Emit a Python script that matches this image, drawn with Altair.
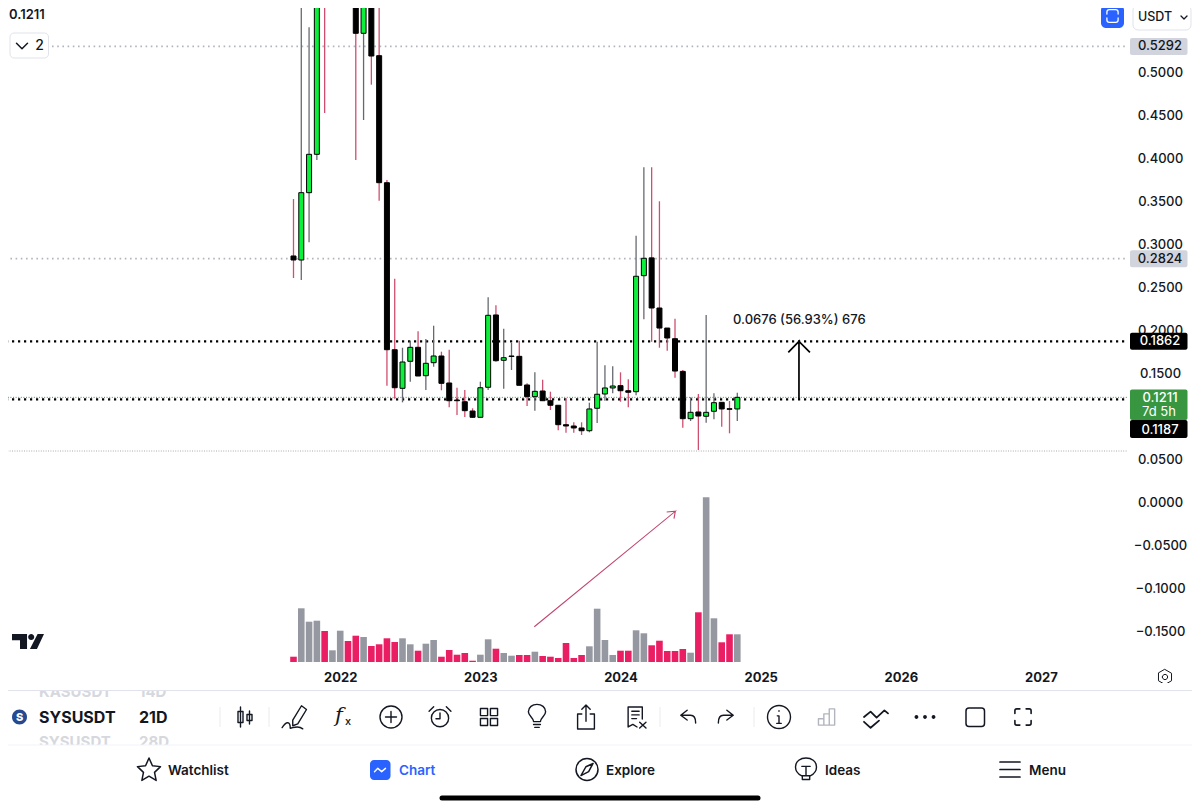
import altair as alt
import pandas as pd

# ---- Candles (21D SYSUSDT); the first candles run off the top of the visible price range
open_ = [.2855,.2808,.3591,.4037,.80,.75,.85,.95,.74,.5444,.62,.5184,.3707,.1765,.1316,.1630,.1793,.1463,.1614,.1692,
         .1378,.1180,.1160,.1052,.0979,.1328,.2169,.1642,.1686,.1688,.1355,.1219,.1285,.1172,.1119,.0893,.0878,.0855,.0823,.1084,
         .1250,.1320,.1347,.1288,.1277,.2626,.2833,.2250,.2017,.1893,.1513,.0963,.1041,.0991,.1049,.1153,.1079,.1076]
high = [.3517,.72,.5514,.85,.90,.95,1.05,1.0,.80,.66,.66,.5793,.3738,.2591,.1788,.1870,.1979,.1890,.2044,.1742,
        .1765,.1323,.1297,.1084,.1393,.2374,.2281,.2009,.1843,.1870,.1374,.1502,.1416,.1277,.1119,.1200,.0921,.0921,.1149,.1858,
        .1584,.1572,.1502,.1421,.3091,.3886,.3886,.3491,.2017,.2126,.1529,.1212,.1250,.2169,.1258,.1153,.1169,.1265]
low = [.2599,.2576,.3014,.3971,.4517,.65,.68,.60,.3971,.4436,.4847,.3498,.1347,.1195,.1153,.1393,.1459,.1297,.1567,.1293,
       .1095,.1006,.0983,.0972,.0971,.1297,.1626,.1312,.1529,.1351,.1110,.1056,.1172,.1064,.0828,.0800,.0800,.0773,.0805,.0913,
       .1172,.1258,.1160,.1095,.1235,.2119,.1858,.1788,.1753,.1440,.0858,.0936,.0599,.0916,.0956,.0870,.0793,.0936]
close = [.2808,.3591,.4037,.75,.75,.85,.95,.74,.5444,.62,.5180,.3707,.1765,.1323,.1622,.1793,.1459,.1607,.1692,.1374,
         .1172,.1172,.1056,.0979,.1323,.2165,.1637,.1672,.1692,.1351,.1219,.1281,.1172,.1119,.0893,.0878,.0855,.0823,.1076,.1247,
         .1320,.1343,.1288,.1270,.2619,.2828,.2250,.2017,.1901,.1517,.0963,.1037,.0994,.1037,.1149,.1076,.1072,.1211]
volume = [5.3,53.7,40.3,41.3,31,11.7,31.3,21,26.3,25,16,17.7,23.7,20,23.7,17.7,11.3,18.3,22,5.3,
          12,7.3,9,1.3,7.3,22.7,13.3,9,6.3,7,7,10.3,6,5.3,4,19,4,7,15.7,53.3,
          22,7,11.3,11.3,31.7,28.7,16.7,21.3,11,11,13,9.3,49.7,164.7,43.7,19.7,27.7,27.7]

year_ticks = [6, 24, 42, 60, 78, 96]
price_ticks = [-.15, -.10, -.05, 0, .05, .15, .20, .25, .30, .35, .40, .45, .50]
line_prices = [0.5292, 0.2824, 0.1862, 0.1187, 0.1211, 0.0587]

# ---- Scales: the plot is the chart's drawing region left of the price axis
W, H = 1120, 654
PRICE_DOMAIN = [-0.18663, 0.57384]
IDX_DOMAIN = [-36.668, 107.18]
xs = alt.Scale(domain=IDX_DOMAIN, nice=False, zero=False, padding=0)
ys = alt.Scale(domain=PRICE_DOMAIN, nice=False, zero=False)
vs = alt.Scale(domain=[0, H], nice=False, zero=False)

INK = "#131722"
FONT = "Inter"
xaxis = alt.Axis(values=year_ticks, labelExpr="format(2022+(datum.value-6)/18,'d')", title=None, domain=False,
                 ticks=False, grid=False, labelFont=FONT, labelFontSize=13, labelFontWeight=700, labelColor=INK,
                 labelPadding=9, labelOverlap=False, labelBound=False, labelFlush=False)
X = alt.X("i:Q", scale=xs, axis=xaxis)
Y = lambda f: alt.Y(f"{f}:Q", scale=ys, axis=None)
Y2 = lambda f: alt.Y2(f"{f}:Q")

df = pd.DataFrame({"i": range(len(open_)), "o": open_, "h": high, "l": low, "c": close, "v": volume})
df["up"] = df.c >= df.o
df["wick"] = df.up.map({True: "#666a70", False: "#cf4f70"})
df["body"] = df.up.map({True: "#0bf03a", False: "#000000"})
df["volc"] = df.up.map({True: "#9598a1", False: "#ea1e63"})
df["top"] = df[["o", "c"]].max(axis=1)
df["bot"] = df[["o", "c"]].min(axis=1)

one = pd.DataFrame({"a": [0]})


def px(x):
    return x - 8


def box(x1, y1, x2, y2, fill="white", stroke=None, r=0, sw=1):
    kw = dict(fill=fill, cornerRadius=r)
    if stroke:
        kw.update(stroke=stroke, strokeWidth=sw)
    return alt.Chart(one).mark_rect(**kw).encode(x=alt.value(px(x1)), x2=alt.value(px(x2)),
                                                  y=alt.value(px(y1)), y2=alt.value(px(y2)))


def txt(s, x, y, size=13, weight=500, color=INK, align="left", font=FONT, style="normal"):
    return alt.Chart(one).mark_text(text=s, fontSize=size, fontWeight=weight, color=color, align=align,
                                    baseline="middle", font=font, fontStyle=style).encode(
        x=alt.value(px(x)), y=alt.value(px(y)))


def hline(x1, x2, y, color, size=1, cap="butt"):
    return alt.Chart(one).mark_rule(color=color, size=size, strokeCap=cap).encode(
        x=alt.value(px(x1)), x2=alt.value(px(x2)), y=alt.value(px(y)))


def vline(x, y1, y2, color, size=1):
    return alt.Chart(one).mark_rule(color=color, size=size).encode(
        x=alt.value(px(x)), y=alt.value(px(y1)), y2=alt.value(px(y2)))


def icon(path, x, y, d, stroke=INK, sw=1.4, fill=None):
    kw = dict(shape=path, size=d * d, opacity=1, strokeWidth=sw, strokeJoin="round", strokeCap="round")
    if fill:
        kw.update(filled=True, fill=fill, stroke=fill if stroke is None else stroke)
    else:
        kw.update(filled=False, stroke=stroke)
    return alt.Chart(one).mark_point(**kw).encode(x=alt.value(px(x)), y=alt.value(px(y)))


def circ(cx, cy, r):
    k = 0.5523 * r
    return (f"M{cx-r} {cy}C{cx-r} {cy-k} {cx-k} {cy-r} {cx} {cy-r}C{cx+k} {cy-r} {cx+r} {cy-k} {cx+r} {cy}"
            f"C{cx+r} {cy+k} {cx+k} {cy+r} {cx} {cy+r}C{cx-k} {cy+r} {cx-r} {cy+k} {cx-r} {cy}Z")


# ---- Price and volume layers
axis_layer = alt.Chart(df).mark_rule(opacity=0).encode(
    x=X,
    y=alt.Y("c:Q", scale=ys, axis=alt.Axis(orient="right", values=price_ticks, format=".4f", title=None, domain=False,
                                           ticks=False, grid=False, labelFont=FONT, labelFontSize=13, labelFontWeight=500,
                                           labelColor=INK, labelAlign="center", labelBaseline="middle", labelPadding=32,
                                           labelOffset=1, labelOverlap=False, labelBound=False, labelFlush=False)),
)
vol_bars = alt.Chart(df).mark_bar(size=6.6, clip=True).encode(
    x=X, y=alt.Y("v:Q", scale=vs, axis=None), color=alt.Color("volc:N", scale=None))
wicks = alt.Chart(df).mark_rule(size=1.3, clip=True).encode(
    x=X, y=Y("h"), y2=Y2("l"), color=alt.Color("wick:N", scale=None))
bodies = alt.Chart(df).mark_bar(size=5, stroke="#000000", strokeWidth=1, clip=True).encode(
    x=X, y=Y("top"), y2=Y2("bot"), color=alt.Color("body:N", scale=None))

lines_df = pd.DataFrame({"p": line_prices,
                         "col": ["#b2b5be", "#b2b5be", "#000000", "#000000", "#3d9a4b", "#a8abb3"],
                         "w": [1.6, 1.6, 2.2, 2.2, 1, 1],
                         "k": ["a", "a", "b", "b", "c", "d"]})
price_lines = []
for kind, dash in [("a", [1.6, 3.6]), ("b", [2.2, 3.8]), ("c", [1, 1.6]), ("d", [1, 1.4])]:
    price_lines.append(alt.Chart(lines_df[lines_df.k == kind]).mark_rule(strokeDash=dash).encode(
        x=alt.value(-8), x2=alt.value(W), y=Y("p"), color=alt.Color("col:N", scale=None),
        size=alt.Size("w:Q", scale=None)))

arrow_up = pd.DataFrame({"i": [64.92, 64.92, 63.55, 64.92, 66.33], "p": [.1187, .1862, .1735, .1862, .1735], "o": range(5)})
arrow_pink = pd.DataFrame({"i": [30.93, 49.04, 47.93, 49.04, 48.87], "p": [-.1456, -.0114, -.0122, -.0114, -.0200], "o": range(5)})
arrow1 = alt.Chart(arrow_up).mark_line(color="#000000", strokeWidth=1.7).encode(x=X, y=Y("p"), order="o:Q")
arrow2 = alt.Chart(arrow_pink).mark_line(color="#c2456f", strokeWidth=1.1).encode(x=X, y=Y("p"), order="o:Q")


def py(p):
    return 501.5 - 860 * p


chrome = []
# price tags
for p, fill, col in [(.5292, "#d1d4dc", INK), (.2824, "#d1d4dc", INK), (.1862, "#000000", "#ffffff")]:
    chrome += [box(1130, py(p) - 8.5, 1187.5, py(p) + 8.5, fill=fill, r=2),
               txt(f"{p:.4f}", 1160, py(p), 13, 500, col, "center")]
chrome += [box(1130, 389.5, 1187.5, 420, fill="#37963f", r=2),
           txt("0.1211", 1160, 397.5, 13, 500, "#ffffff", "center"),
           txt("7d 5h", 1159, 412, 13, 400, "#ffffff", "center"),
           box(1130, 420, 1187.5, 438, fill="#000000", r=2),
           txt("0.1187", 1160, 429.5, 13, 500, "#ffffff", "center")]
# top left / right controls
chrome += [txt("0.1211", 9, 15, 13, 600),
           box(10, 33, 48.5, 58, fill="#ffffff", stroke="#e0e3eb", r=4),
           icon("M-1 -.5L0 .5L1 -.5", 22, 46, 11, sw=1.5),
           txt("2", 39.5, 46, 14, 500, align="center"),
           box(1101, 5, 1124, 28, fill="#2962ff", r=5),
           icon("M-.7 -.25V-.5C-.7 -.7 -.6 -.8 -.4 -.8H.4C.6 -.8 .7 -.7 .7 -.5V-.25M.7 .25V.5C.7 .7 .6 .8 .4 .8H-.4C-.6 .8 -.7 .7 -.7 .5V.25",
                1112.5, 16, 16, stroke="#ffffff", sw=1.3),
           box(1133, 5, 1191, 30, fill="#ffffff", stroke="#e0e3eb", r=5),
           txt("USDT", 1138, 17, 12.5, 500),
           icon("M-1 -.5L0 .5L1 -.5", 1184, 17.5, 6, sw=1.3)]
# measure label, logo, axis gear
chrome += [txt("0.0676 (56.93%) 676", 733, 319.5, 13, 500),
           icon("M-1 -.47H-.06V.47H-.5V-.08H-1Z" + circ(.2, -.28, .19) + "M.6 -.47H1L.56 .47H.12Z", 28, 641.5, 32, stroke=None, sw=0, fill="#131722"),
           icon("M0 -1L.87 -.5V.5L0 1L-.87 .5V-.5Z" + circ(0, 0, .35), 1165, 677, 15, sw=1)]
# toolbar: faded neighbours, clipped by white bands
chrome += [txt("KASUSDT", 39, 692, 15, 700, "#d6d8dd"), txt("14D", 139, 692, 15, 700, "#d6d8dd"),
           txt("SYSUSDT", 39, 742, 15, 700, "#d6d8dd"), txt("28D", 139, 742, 15, 700, "#d6d8dd"),
           box(0, 683, 1200, 691), box(0, 745, 1200, 810),
           hline(0, 1200, 690.5, "#e0e3eb"), hline(0, 1200, 745, "#f0f3fa"),
           icon(circ(0, 0, 1), 19.5, 717, 15, stroke=None, sw=0, fill="#254a8f"),
           txt("S", 19.5, 717.5, 11, 800, "#ffffff", "center"),
           txt("SYSUSDT", 39, 717.5, 16, 700),
           txt("21D", 139, 717.5, 16, 700)]
G = "#e9ebef"
chrome += [vline(x, 707, 727, G) for x in (220, 269, 660, 754)]
T = 717
chrome += [
    icon("M-.45 -1V1M-.7 -.55H-.2V.55H-.7ZM.45 -.6V.7M.2 -.25H.7V.35H.2Z", 245, T, 20),
    icon("M-.1 .25L.6 -.9L1 -.6L.3 .55L-.1 .7ZM-.95 .85C-.6 .3 -.3 .35 -.3 .9C0 .85 .35 .65 .7 .95", 294, T, 25),
    txt("f", 339, T - 1, 21, 400, align="center", font="DejaVu Serif", style="italic"),
    txt("x", 348, T + 5, 11, 500, align="center"),
    icon(circ(0, 0, 1) + "M-.5 0H.5M0 -.5V.5", 391, T, 22),
    icon(circ(0, .1, .75) + "M0 -.35V.15H-.35M-.95 -.5L-.55 -.9M.95 -.5L.55 -.9", 440, T, 23),
    icon("M-.9 -.9H-.15V-.15H-.9ZM.15 -.9H.9V-.15H.15ZM-.9 .15H-.15V.9H-.9ZM.15 .15H.9V.9H.15Z", 489, T, 19),
    icon("M-.3 .4C-.3 .05 -.75 -.1 -.75 -.45C-.75 -.85 -.4 -1.1 0 -1.1C.4 -1.1 .75 -.85 .75 -.45C.75 -.1 .3 .05 .3 .4ZM-.3 .65H.3M-.2 .9H.2", 537, T, 23),
    icon("M-.35 -.25H-.7V1H.7V-.25H.35M0 .35V-1M-.35 -.65L0 -1L.35 -.65", 586, T, 24),
    icon("M-.75 .95V-.95H.6V.2M-.75 .95L-.3 .7L.1 .95M-.4 -.55H.3M-.4 -.2H.3M-.4 .15H.05M.35 .5L.95 1.05M.95 .5L.35 1.05", 636, T, 21),
    icon("M-.1 -.8L-.85 -.2L-.1 .35M-.85 -.2H.3C.7 -.2 .9 .1 .9 .7", 688, T, 17),
    icon("M.1 -.8L.85 -.2L.1 .35M.85 -.2H-.3C-.7 -.2 -.9 .1 -.9 .7", 726, T, 17),
    icon(circ(0, 0, 1) + "M0 -.1V.55M-.15 -.1H0M-.2 .55H.2M0 -.55V-.5", 779, T, 23),
    icon("M-.95 .9V.2H-.35V.9ZM-.35 .9V-.35H.25V.9ZM.25 .9V-.9H.85V.9Z", 827, T, 18, stroke="#b2b5be", sw=1.4),
    icon("M-1 0L-.45 -.45L.05 .05L.7 -.55L1 -.3M-1 .4L-.45 .9L.25 .3", 876, T, 24, sw=1.8),
    icon(circ(-.9, 0, .2) + circ(0, 0, .2) + circ(.9, 0, .2), 925, T, 19, stroke=None, sw=0, fill=INK),
    box(966, 708, 984.5, 726.5, fill="#ffffff", stroke=INK, r=3, sw=1.5),
    icon("M-.9 -.4V-.7C-.9 -.85 -.85 -.9 -.7 -.9H-.35M.35 -.9H.7C.85 -.9 .9 -.85 .9 -.7V-.4M.9 .4V.7C.9 .85 .85 .9 .7 .9H.35M-.35 .9H-.7C-.85 .9 -.9 .85 -.9 .7V.4", 1023, T, 18, sw=1.6),
]
# bottom navigation
N = 770.5
chrome += [
    icon("M0 -1L.3 -.32L1 -.25L.48 .25L.62 .95L0 .58L-.62 .95L-.48 .25L-1 -.25L-.3 -.32Z", 149, N - 1, 23, sw=1.5),
    txt("Watchlist", 168, N, 13.5, 600),
    box(370, 760, 390.5, 780, fill="#2962ff", r=4),
    icon("M-1 .3L-.4 -.3L.3 .3L1 -.3", 380, N - .5, 11, stroke="#ffffff", sw=1.4),
    txt("Chart", 399, N, 13.5, 600, "#2962ff"),
    icon(circ(0, 0, 1) + "M.55 -.55L-.1 -.25L-.55 .55L.15 .2Z", 587, N - 1, 22, sw=1.5),
    txt("Explore", 606, N, 13.5, 600),
    icon("M-.4 .6C-.8 .4 -1 .05 -1 -.25C-1 -.8 -.5 -1.1 0 -1.1C.5 -1.1 1 -.8 1 -.25C1 .05 .8 .4 .4 .6ZM-.4 -.3H.4M0 -.3V.6M-.35 .6V.95H.35V.6", 806, N - 1, 21, sw=1.4),
    txt("Ideas", 825, N, 13.5, 600),
    icon("M-1 -.75H1M-1 0H1M-1 .75H1", 1010, N - 1, 20, sw=1.7),
    txt("Menu", 1029, N, 13.5, 600),
    hline(442, 758, 798, "#000000", size=5, cap="round"),
]

layers = [axis_layer] + price_lines + [vol_bars, wicks, bodies, arrow1, arrow2] + chrome

chart = alt.layer(*layers).resolve_scale(y="independent").properties(
    width=W, height=H, autosize=alt.AutoSizeParams(type="none"),
    padding={"left": 0, "top": 0, "right": 64, "bottom": 146}, background="#ffffff",
).configure_view(stroke=None)

chart.save("out.html", embed_options={"renderer": "svg", "actions": False})
